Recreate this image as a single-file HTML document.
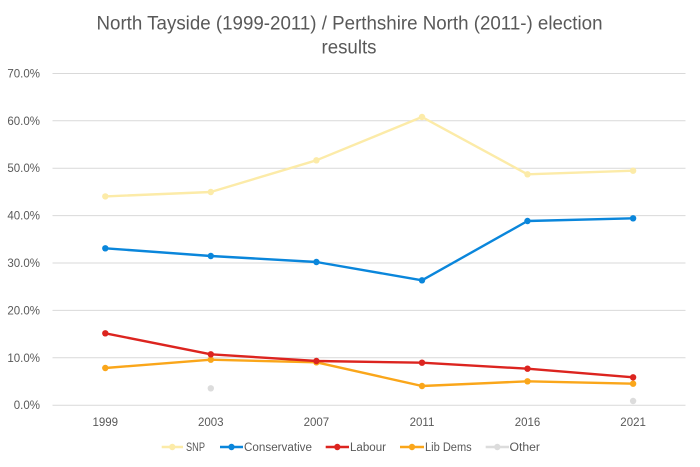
<!DOCTYPE html>
<html>
<head>
<meta charset="utf-8">
<style>
  html,body{margin:0;padding:0;background:#fff;}
  svg{display:block;}
  text{font-family:"Liberation Sans",Arial,sans-serif;fill:#595959;}
</style>
</head>
<body>
<svg width="700" height="467" viewBox="0 0 700 467" xmlns="http://www.w3.org/2000/svg">
  <rect width="700" height="467" fill="#fff"/>
  <!-- Title -->
  <text x="349.5" y="29.5" font-size="19" text-anchor="middle" textLength="506" lengthAdjust="spacingAndGlyphs">North Tayside (1999-2011) / Perthshire North (2011-) election</text>
  <text x="349" y="53.5" font-size="19" text-anchor="middle" textLength="55" lengthAdjust="spacingAndGlyphs">results</text>

  <!-- Gridlines -->
  <g stroke="#D9D9D9" stroke-width="1">
    <line x1="52.5" y1="73.5" x2="685.5" y2="73.5"/>
    <line x1="52.5" y1="120.8" x2="685.5" y2="120.8"/>
    <line x1="52.5" y1="168.2" x2="685.5" y2="168.2"/>
    <line x1="52.5" y1="215.6" x2="685.5" y2="215.6"/>
    <line x1="52.5" y1="263" x2="685.5" y2="263"/>
    <line x1="52.5" y1="310.4" x2="685.5" y2="310.4"/>
    <line x1="52.5" y1="357.8" x2="685.5" y2="357.8"/>
    <line x1="52.5" y1="405.2" x2="685.5" y2="405.2"/>
  </g>

  <!-- Y labels -->
  <g font-size="11.5" text-anchor="end">
    <text x="40" y="77.5">70.0%</text>
    <text x="40" y="124.8">60.0%</text>
    <text x="40" y="172.2">50.0%</text>
    <text x="40" y="219.6">40.0%</text>
    <text x="40" y="267">30.0%</text>
    <text x="40" y="314.4">20.0%</text>
    <text x="40" y="361.8">10.0%</text>
    <text x="40" y="409.2">0.0%</text>
  </g>

  <!-- X labels -->
  <g font-size="11.5" text-anchor="middle">
    <text x="105.3" y="426">1999</text>
    <text x="210.8" y="426">2003</text>
    <text x="316.4" y="426">2007</text>
    <text x="422" y="426">2011</text>
    <text x="527.5" y="426">2016</text>
    <text x="633.1" y="426">2021</text>
  </g>

  <!-- SNP -->
  <polyline fill="none" stroke="#FCEBA8" stroke-width="2.4" stroke-linejoin="round" points="105.3,196.4 210.8,192 316.4,160.3 422,117 527.5,174.3 633.1,170.7"/>
  <g fill="#FCEBA8">
    <circle cx="105.3" cy="196.4" r="3.2"/><circle cx="210.8" cy="192" r="3.2"/><circle cx="316.4" cy="160.3" r="3.2"/>
    <circle cx="422" cy="117" r="3.2"/><circle cx="527.5" cy="174.3" r="3.2"/><circle cx="633.1" cy="170.7" r="3.2"/>
  </g>

  <!-- Conservative -->
  <polyline fill="none" stroke="#0A86DB" stroke-width="2.4" stroke-linejoin="round" points="105.3,248.3 210.8,256 316.4,262 422,280.3 527.5,221 633.1,218.3"/>
  <g fill="#0A86DB">
    <circle cx="105.3" cy="248.3" r="3.2"/><circle cx="210.8" cy="256" r="3.2"/><circle cx="316.4" cy="262" r="3.2"/>
    <circle cx="422" cy="280.3" r="3.2"/><circle cx="527.5" cy="221" r="3.2"/><circle cx="633.1" cy="218.3" r="3.2"/>
  </g>

  <!-- Other -->
  <g fill="#DCDCDC">
    <circle cx="210.8" cy="388.3" r="3.2"/><circle cx="633.1" cy="401" r="3.2"/>
  </g>

  <!-- Lib Dems -->
  <polyline fill="none" stroke="#FAA61A" stroke-width="2.4" stroke-linejoin="round" points="105.3,368 210.8,359.7 316.4,362.3 422,386 527.5,381.3 633.1,383.7"/>
  <g fill="#FAA61A">
    <circle cx="105.3" cy="368" r="3.2"/><circle cx="210.8" cy="359.7" r="3.2"/><circle cx="316.4" cy="362.3" r="3.2"/>
    <circle cx="422" cy="386" r="3.2"/><circle cx="527.5" cy="381.3" r="3.2"/><circle cx="633.1" cy="383.7" r="3.2"/>
  </g>

  <!-- Labour -->
  <polyline fill="none" stroke="#DC241F" stroke-width="2.4" stroke-linejoin="round" points="105.3,333.3 210.8,354.3 316.4,361 422,362.7 527.5,368.7 633.1,377.3"/>
  <g fill="#DC241F">
    <circle cx="105.3" cy="333.3" r="3.2"/><circle cx="210.8" cy="354.3" r="3.2"/><circle cx="316.4" cy="361" r="3.2"/>
    <circle cx="422" cy="362.7" r="3.2"/><circle cx="527.5" cy="368.7" r="3.2"/><circle cx="633.1" cy="377.3" r="3.2"/>
  </g>

  <!-- Legend -->
  <g stroke-width="2.4">
    <line x1="161.7" y1="447" x2="183" y2="447" stroke="#FCEBA8"/>
    <line x1="220" y1="447" x2="243" y2="447" stroke="#0A86DB"/>
    <line x1="325.7" y1="447" x2="349" y2="447" stroke="#DC241F"/>
    <line x1="400" y1="447" x2="424" y2="447" stroke="#FAA61A"/>
    <line x1="485.7" y1="447" x2="509" y2="447" stroke="#DCDCDC"/>
  </g>
  <circle cx="172.3" cy="447" r="3.2" fill="#FCEBA8"/>
  <circle cx="231.5" cy="447" r="3.2" fill="#0A86DB"/>
  <circle cx="337.3" cy="447" r="3.2" fill="#DC241F"/>
  <circle cx="412" cy="447" r="3.2" fill="#FAA61A"/>
  <circle cx="497.3" cy="447" r="3.2" fill="#DCDCDC"/>
  <g font-size="11.5">
    <text x="186" y="451" textLength="19" lengthAdjust="spacingAndGlyphs">SNP</text>
    <text x="244" y="451" textLength="68" lengthAdjust="spacingAndGlyphs">Conservative</text>
    <text x="350" y="451" textLength="36" lengthAdjust="spacingAndGlyphs">Labour</text>
    <text x="425" y="451" textLength="46.7" lengthAdjust="spacingAndGlyphs">Lib Dems</text>
    <text x="509.5" y="451" textLength="30.5" lengthAdjust="spacingAndGlyphs">Other</text>
  </g>
</svg>
</body>
</html>
